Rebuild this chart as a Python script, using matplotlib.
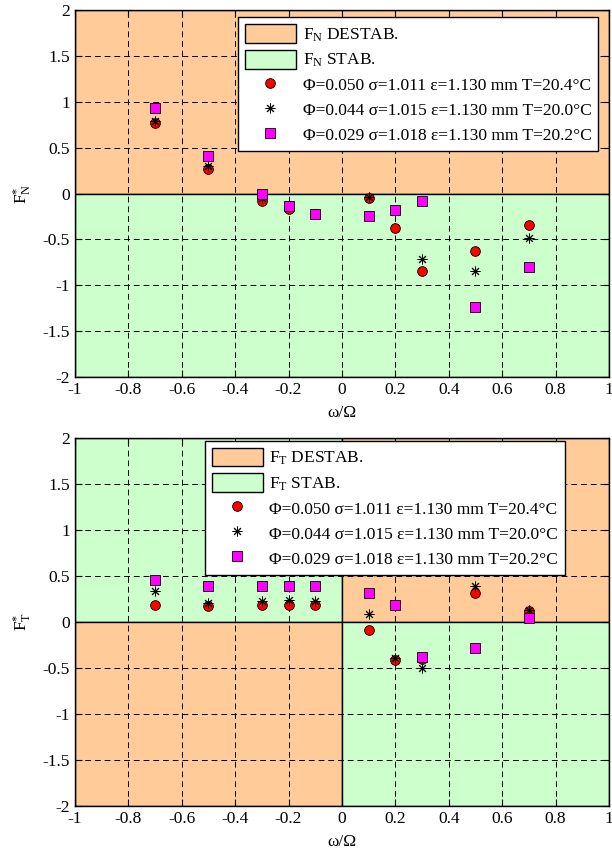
import numpy as np
import matplotlib.pyplot as plt
from matplotlib.patches import Patch
from matplotlib.lines import Line2D

plt.rcParams['font.family'] = ['Liberation Serif', 'DejaVu Serif']
plt.rcParams['mathtext.fontset'] = 'custom'
plt.rcParams['mathtext.rm'] = 'Liberation Serif'
plt.rcParams['mathtext.it'] = 'Liberation Serif:italic'
plt.rcParams['axes.unicode_minus'] = False

# Datos
omega = [-0.7, -0.5, -0.3, -0.2, -0.1, 0.1, 0.2, 0.3, 0.5, 0.7]

fn_050 = [0.77, 0.27, -0.08, -0.17, -0.22, -0.05, -0.38, -0.85, -0.63, -0.34]
fn_044 = [0.79, 0.30, -0.05, -0.15, -0.22, -0.04, -0.20, -0.71, -0.85, -0.49]
fn_029 = [0.93, 0.41, 0.00, -0.14, -0.22, -0.24, -0.18, -0.08, -1.24, -0.80]

ft_050 = [0.18, 0.17, 0.18, 0.19, 0.18, -0.09, -0.41, -0.40, 0.32, 0.12]
ft_044 = [0.34, 0.21, 0.23, 0.24, 0.23, 0.09, -0.39, -0.50, 0.39, 0.13]
ft_029 = [0.46, 0.39, 0.39, 0.39, 0.39, 0.31, 0.19, -0.38, -0.28, 0.04]

series_labels = ['Φ=0.050 σ=1.011 ε=1.130 mm T=20.4°C',
                 'Φ=0.044 σ=1.015 ε=1.130 mm T=20.0°C',
                 'Φ=0.029 σ=1.018 ε=1.130 mm T=20.2°C']

xticks = [-1, -0.8, -0.6, -0.4, -0.2, 0, 0.2, 0.4, 0.6, 0.8, 1]
xtick_labels = ['-1', '-0.8', '-0.6', '-0.4', '-0.2', '0', '0.2', '0.4', '0.6', '0.8', '1']
yticks = [-2, -1.5, -1, -0.5, 0, 0.5, 1, 1.5, 2]
ytick_labels = ['-2', '-1.5', '-1', '-0.5', '0', '0.5', '1', '1.5', '2']

col_destab = '#FFCC99'
col_stab = '#CCFFCC'
fs = 12.5
asterisco = (8, 2, 0)  # asterisco tipo MATLAB


def preparar_ejes(ax):
    ax.set_xlim(-1, 1)
    ax.set_ylim(-2, 2)
    ax.set_xticks(xticks)
    ax.set_xticklabels(xtick_labels)
    ax.set_yticks(yticks)
    ax.set_yticklabels(ytick_labels)
    ax.tick_params(direction='in', top=True, right=True, length=5,
                   labelsize=fs, width=0.8)
    ax.set_axisbelow(True)
    ax.grid(True, color='k', linestyle=(0, (6, 4)), linewidth=0.7)
    for s in ax.spines.values():
        s.set_linewidth(1.0)
    ax.set_xlabel('ω/Ω', fontsize=fs, labelpad=5)


def puntos(ax, a, b, c):
    ax.plot(omega, a, 'o', ms=7, mfc='red', mec='k', mew=0.6, zorder=3)
    ax.plot(omega, b, marker=asterisco, ls='none', ms=7, color='k', mew=0.7, zorder=4)
    ax.plot(omega, c, 's', ms=7, mfc='magenta', mec='k', mew=0.6, zorder=5)


def leyenda(ax, sub, anchor):
    handles = [Patch(facecolor=col_destab, edgecolor='k', linewidth=1),
               Patch(facecolor=col_stab, edgecolor='k', linewidth=1),
               Line2D([], [], ls='none', marker='o', ms=7, mfc='red', mec='k', mew=0.6),
               Line2D([], [], ls='none', marker=asterisco, ms=7, color='k', mew=0.7),
               Line2D([], [], ls='none', marker='s', ms=7, mfc='magenta', mec='k', mew=0.6)]
    labels = [r'F$_\mathrm{%s}$ DESTAB.' % sub, r'F$_\mathrm{%s}$ STAB.' % sub] + series_labels
    leg = ax.legend(handles, labels, loc='upper right', bbox_to_anchor=anchor,
                    fontsize=fs, fancybox=False, framealpha=1, edgecolor='k',
                    handlelength=2.9, handleheight=1.3, handletextpad=0.4,
                    labelspacing=0.33, borderpad=0.4, borderaxespad=0)
    leg.get_frame().set_linewidth(1.0)
    leg.set_zorder(10)


fig = plt.figure(figsize=(6.12, 8.6), dpi=100)

# Grafica superior: F_N
ax1 = fig.add_axes([0.1225, 0.5616, 0.8725, 0.4268])
ax1.fill_between([-1, 1], 0, 2, facecolor=col_destab, edgecolor='k', linewidth=1, zorder=-1)
ax1.fill_between([-1, 1], -2, 0, facecolor=col_stab, edgecolor='k', linewidth=1, zorder=-1)
preparar_ejes(ax1)
puntos(ax1, fn_050, fn_044, fn_029)
ax1.set_ylabel(r'$\mathrm{F}^{*}_{\mathrm{N}}$', fontsize=fs, labelpad=6)
leyenda(ax1, 'N', (0.98, 0.98))

# Grafica inferior: F_T
ax2 = fig.add_axes([0.1225, 0.0628, 0.8725, 0.4279])
ax2.fill_between([-1, 0], 0, 2, facecolor=col_stab, edgecolor='k', linewidth=1, zorder=-1)
ax2.fill_between([-1, 0], -2, 0, facecolor=col_destab, edgecolor='k', linewidth=1, zorder=-1)
ax2.fill_between([0, 1], 0, 2, facecolor=col_destab, edgecolor='k', linewidth=1, zorder=-1)
ax2.fill_between([0, 1], -2, 0, facecolor=col_stab, edgecolor='k', linewidth=1, zorder=-1)
preparar_ejes(ax2)
puntos(ax2, ft_050, ft_044, ft_029)
ax2.set_ylabel(r'$\mathrm{F}^{*}_{\mathrm{T}}$', fontsize=fs, labelpad=6)
leyenda(ax2, 'T', (0.918, 0.993))

fig.savefig('out.png', dpi=100)
